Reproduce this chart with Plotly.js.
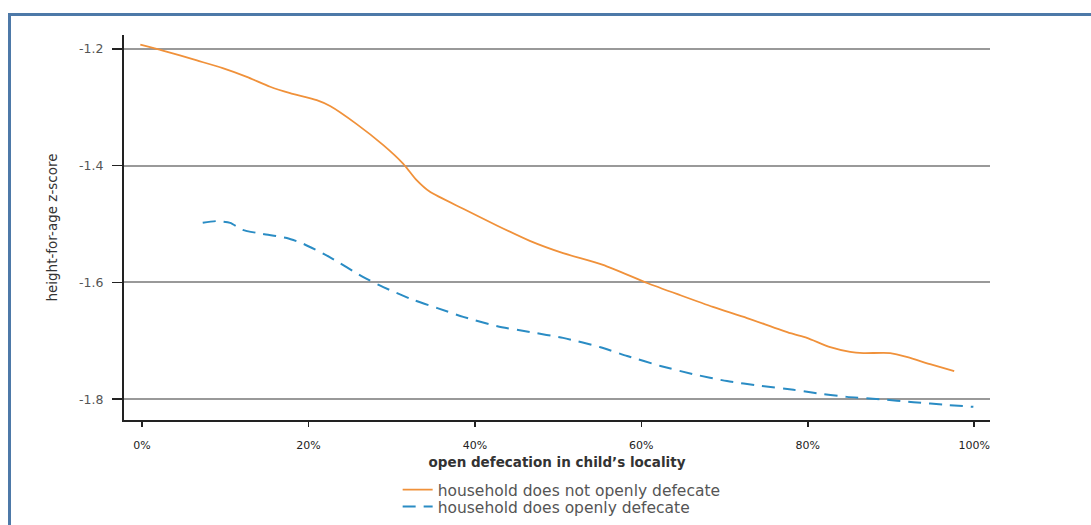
<!DOCTYPE html>
<html>
<head>
<meta charset="utf-8">
<script src="https://cdn.plot.ly/plotly-3.0.1.min.js"></script>
<style>
  html, body { margin: 0; padding: 0; background: #fff; }
  #wrap { position: relative; width: 1091px; height: 525px; overflow: hidden; }
  #chart { position: absolute; left: 0; top: 0; width: 1091px; height: 525px; }
  #frame { position: absolute; left: 8px; top: 13px; width: 1200px; height: 700px;
           border: 3px solid #4d79a8; box-sizing: border-box; pointer-events: none; }
</style>
</head>
<body>
<div id="wrap">
  <div id="chart"></div>
  <div id="frame"></div>
</div>
<script>
// ---- data ----
const noOdX = [-0.2, 2.5, 6.6, 9.7, 12.6, 15.4, 17.8, 21.0, 22.6, 25.8, 29.0, 31.4, 33.0, 34.6, 38.6,
               42.7, 46.6, 50.6, 55.4, 60.7, 64.7, 68.6, 72.7, 77.9, 79.9, 82.7, 85.1, 86.7, 89.9,
               92.0, 94.7, 97.6];
const noOdY = [-1.193, -1.203, -1.220, -1.233, -1.248, -1.265, -1.276, -1.288, -1.298, -1.329, -1.365,
               -1.397, -1.425, -1.445, -1.474, -1.503, -1.529, -1.550, -1.570, -1.601, -1.622, -1.642,
               -1.661, -1.687, -1.695, -1.711, -1.719, -1.721, -1.721, -1.728, -1.740, -1.752];

const odX = [7.3, 9.0, 10.6, 12.1, 14.5, 17.4, 19.4, 22.6, 26.6, 29.0, 32.6, 35.5, 38.6, 42.7, 46.6,
             50.6, 55.1, 58.3, 62.3, 66.2, 70.3, 74.3, 78.3, 80.7, 84.7, 88.7, 92.7, 96.8, 99.9];
const odY = [-1.498, -1.495, -1.498, -1.510, -1.517, -1.524, -1.534, -1.557, -1.591, -1.608, -1.630,
             -1.644, -1.659, -1.675, -1.685, -1.695, -1.711, -1.726, -1.743, -1.757, -1.769, -1.777,
             -1.784, -1.789, -1.796, -1.800, -1.805, -1.810, -1.813];

const seriesNames = ["household does not openly defecate", "household does openly defecate"];

const xTickVals = [0, 20, 40, 60, 80, 100];
const xTickText = ["0%", "20%", "40%", "60%", "80%", "100%"];
const yTickVals = [-1.2, -1.4, -1.6, -1.8];
const yTickText = ["-1.2", "-1.4", "-1.6", "-1.8"];

const xTitle = "open defecation in child\u2019s locality";
const yTitle = "height-for-age z-score";

// ---- chart ----
const traces = [
  {
    x: noOdX, y: noOdY, name: seriesNames[0], type: "scatter", mode: "lines", legend: "legend",
    line: { color: "#f0913a", width: 1.8, shape: "spline", smoothing: 0.6 }
  },
  {
    x: odX, y: odY, name: seriesNames[1], type: "scatter", mode: "lines", legend: "legend2",
    line: { color: "#2a8cc4", width: 2, dash: "13px,8px", shape: "spline", smoothing: 0.6 }
  }
];

const legendFont = { family: "DejaVu Sans, sans-serif", size: 15.5, color: "#555" };

const layout = {
  width: 1091, height: 525,
  margin: { l: 124, r: 101, t: 35, b: 105, autoexpand: false },
  paper_bgcolor: "rgba(0,0,0,0)",
  plot_bgcolor: "rgba(0,0,0,0)",
  font: { family: "DejaVu Sans, sans-serif", color: "#333" },
  showlegend: true,
  legend: {
    x: 0.316, xanchor: "left", y: -0.1377, yanchor: "top",
    font: legendFont, bgcolor: "rgba(0,0,0,0)", borderwidth: 0
  },
  legend2: {
    x: 0.316, xanchor: "left", y: -0.1818, yanchor: "top",
    font: legendFont, bgcolor: "rgba(0,0,0,0)", borderwidth: 0
  },
  xaxis: {
    range: [-2.16, 101.9],
    tickmode: "array", tickvals: xTickVals, ticktext: xTickText,
    ticks: "outside", ticklen: 5, tickwidth: 1.5, tickcolor: "#222",
    ticklabelstandoff: 9,
    tickfont: { family: "DejaVu Sans, sans-serif", size: 11, color: "#222" },
    showline: true, linecolor: "#222", linewidth: 2,
    showgrid: false, zeroline: false, automargin: false,
    title: { text: xTitle, standoff: 6,
             font: { family: "DejaVu Sans, sans-serif", size: 13.5, color: "#333", weight: "bold" } }
  },
  yaxis: {
    range: [-1.8356, -1.1764],
    tickmode: "array", tickvals: yTickVals, ticktext: yTickText,
    ticks: "outside", ticklen: 10, tickwidth: 1.5, tickcolor: "#222",
    ticklabelstandoff: 6,
    tickfont: { family: "DejaVu Sans, sans-serif", size: 12.5, color: "#555" },
    showline: true, linecolor: "#222", linewidth: 2,
    showgrid: true, gridcolor: "#999", gridwidth: 2,
    zeroline: false, automargin: false,
    title: { text: yTitle, standoff: 18,
             font: { family: "DejaVu Sans, sans-serif", size: 13.5, color: "#333" } }
  }
};

Plotly.newPlot("chart", traces, layout, { displayModeBar: false, staticPlot: true });
</script>
</body>
</html>
